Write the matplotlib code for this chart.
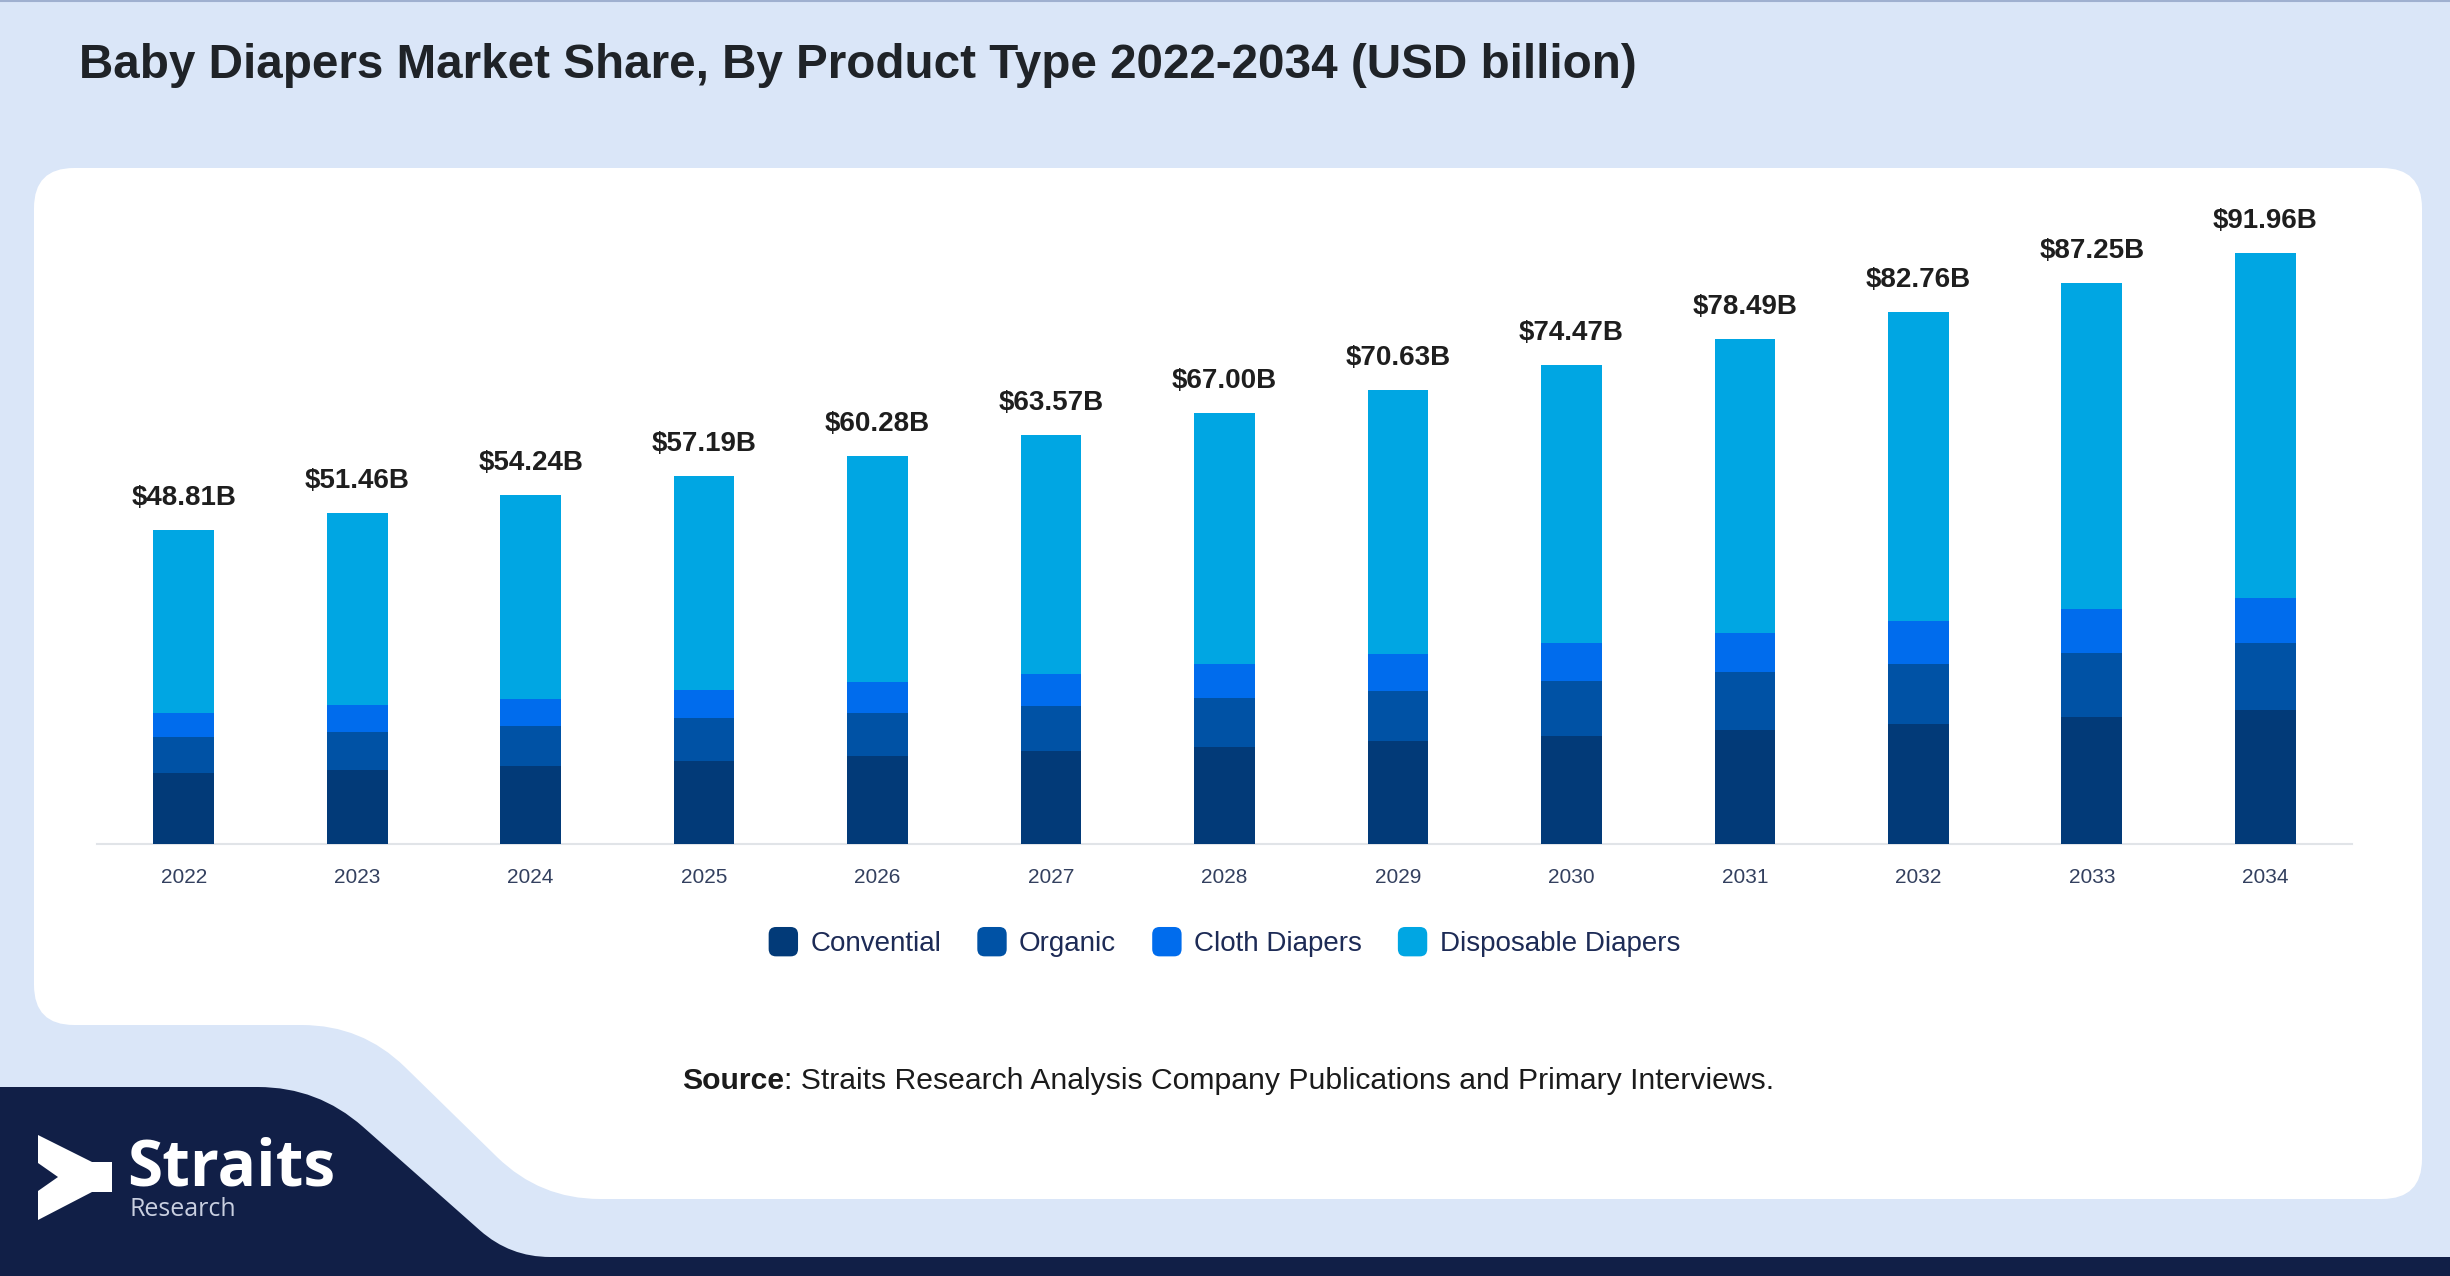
import numpy as np
import matplotlib
matplotlib.use("Agg")
import matplotlib.pyplot as plt
from matplotlib.path import Path
from matplotlib.patches import PathPatch, FancyBboxPatch, Patch
from matplotlib.legend_handler import HandlerBase

plt.rcParams['font.family'] = ['Liberation Sans', 'DejaVu Sans']

# ---------------- data ----------------
years = ['2022', '2023', '2024', '2025', '2026', '2027', '2028',
         '2029', '2030', '2031', '2032', '2033', '2034']
totals = [48.81, 51.46, 54.24, 57.19, 60.28, 63.57, 67.00,
          70.63, 74.47, 78.49, 82.76, 87.25, 91.96]
conventional = [11.0, 11.5, 12.1, 12.95, 13.7, 14.45, 15.1,
                16.0, 16.8, 17.8, 18.6, 19.7, 20.8]
organic = [5.6, 5.9, 6.2, 6.6, 6.75, 7.05, 7.65,
           7.85, 8.5, 8.9, 9.45, 10.05, 10.4]
cloth = [3.85, 4.15, 4.3, 4.4, 4.8, 5.0, 5.3,
         5.7, 5.9, 6.15, 6.65, 6.8, 7.05]
disposable = [28.36, 29.91, 31.64, 33.24, 35.03, 37.07, 38.95,
              41.08, 43.27, 45.64, 48.06, 50.70, 53.71]
series_names = ['Convential', 'Organic', 'Cloth Diapers', 'Disposable Diapers']
series_colors = ['#023a78', '#0052a5', '#006ced', '#00a6e3']
value_labels = ['$48.81B', '$51.46B', '$54.24B', '$57.19B', '$60.28B', '$63.57B',
                '$67.00B', '$70.63B', '$74.47B', '$78.49B', '$82.76B', '$87.25B', '$91.96B']
title = 'Baby Diapers Market Share, By Product Type 2022-2034 (USD billion)'

W, H = 2450, 1276
BG = '#dae6f8'
NAVY = '#111f47'

fig = plt.figure(figsize=(W / 100, H / 100), dpi=100, facecolor=BG)

# background drawing axes in pixel coordinates
bg = fig.add_axes([0, 0, 1, 1], zorder=0)
bg.set_xlim(0, W)
bg.set_ylim(H, 0)
bg.axis('off')


def rounded_path(pts, radii):
    verts, codes = [], []
    n = len(pts)
    for i in range(n):
        p0 = np.array(pts[i - 1], float)
        p1 = np.array(pts[i], float)
        p2 = np.array(pts[(i + 1) % n], float)
        r = radii[i]
        d1 = p0 - p1
        d1 /= np.linalg.norm(d1)
        d2 = p2 - p1
        d2 /= np.linalg.norm(d2)
        a = p1 + d1 * r
        b = p1 + d2 * r
        verts.append(a)
        codes.append(Path.MOVETO if i == 0 else Path.LINETO)
        verts += [p1, b]
        codes += [Path.CURVE3, Path.CURVE3]
    verts.append(verts[0])
    codes.append(Path.CLOSEPOLY)
    return Path(verts, codes)


# thin border line at top
bg.plot([0, W], [1, 1], color='#9fb0d0', lw=1.5)

# white card
card = [(34, 168), (2422, 168), (2422, 1199), (540, 1199), (362, 1025), (34, 1025)]
bg.add_patch(PathPatch(rounded_path(card, [40, 40, 40, 60, 60, 40]),
                       fc='white', ec='none'))

# navy footer
navy = [(0, 1087), (318, 1087), (510, 1257), (W, 1257), (W, H), (0, H)]
bg.add_patch(PathPatch(rounded_path(navy, [0, 60, 40, 0, 0, 0]),
                       fc=NAVY, ec='none'))

# logo icon
icon = [(38, 1135), (92, 1162), (112, 1162), (112, 1192), (92, 1192),
        (38, 1220), (38, 1191), (58, 1177), (38, 1163)]
bg.add_patch(plt.Polygon(icon, closed=True, fc='white', ec='none'))
bg.text(127, 1186, 'Straits', color='white', fontsize=46, fontweight='bold',
        family=['Open Sans', 'DejaVu Sans'], ha='left', va='baseline')
bg.text(130, 1216, 'Research', color='#c9cfe0', fontsize=18,
        family=['Open Sans', 'DejaVu Sans'], ha='left', va='baseline')

# title
bg.text(79, 66, title, fontsize=34.3, fontweight='bold', color='#1f2328',
        ha='left', va='center')

# source
bg.text(784, 1081, 'Source', fontsize=21.7, fontweight='bold', color='#1b1b1b',
        ha='right', va='center')
bg.text(784, 1081, ': Straits Research Analysis Company Publications and Primary Interviews.',
        fontsize=21.7, color='#1b1b1b', ha='left', va='center')

# ---------------- chart ----------------
left, right = 97, 2352
base, top = 844, 201
ax = fig.add_axes([left / W, (H - base) / H, (right - left) / W, (base - top) / H], zorder=2)
ax.set_facecolor('none')

x = np.arange(len(years))
bottom = np.zeros(len(years))
handles = []
for vals, name, col in zip([conventional, organic, cloth, disposable], series_names, series_colors):
    ax.bar(x, vals, width=0.35, bottom=bottom, color=col, edgecolor='none', zorder=3)
    bottom += np.array(vals)
    handles.append(Patch(facecolor=col, label=name))

for xi, tot, lab in zip(x, totals, value_labels):
    ax.annotate(lab, (xi, tot), xytext=(0, 23), textcoords='offset points',
                ha='center', va='center', fontsize=20, fontweight='bold', color='#1e1e1e',
                zorder=4)

ax.set_xlim(-0.5, len(years) - 0.5)
ax.set_ylim(0, 100)
ax.set_xticks(x)
ax.set_xticklabels(years, fontsize=15, color='#33405f')
ax.tick_params(axis='x', length=0, pad=17)
ax.set_yticks([])
for s in ['left', 'right', 'top']:
    ax.spines[s].set_visible(False)
ax.spines['bottom'].set_color('#e1e4e8')
ax.spines['bottom'].set_linewidth(1.5)


class RoundBoxHandler(HandlerBase):
    def create_artists(self, legend, orig_handle, xdescent, ydescent,
                       width, height, fontsize, trans):
        size = min(width, height)
        x0 = -xdescent + (width - size) / 2
        y0 = -ydescent + (height - size) / 2
        pad = size * 0.25
        p = FancyBboxPatch((x0 + pad, y0 + pad), size - 2 * pad, size - 2 * pad,
                           boxstyle=f"round,pad={pad},rounding_size={pad}",
                           fc=orig_handle.get_facecolor(), ec='none', transform=trans)
        return [p]


leg = ax.legend(handles=handles, handler_map={Patch: RoundBoxHandler()},
                loc='center', bbox_to_anchor=(1223 / W, (H - 942) / H),
                bbox_transform=fig.transFigure, ncol=4, frameon=False,
                fontsize=20, handlelength=1.25, handleheight=1.25,
                handletextpad=0.35, columnspacing=1.2, borderpad=0)
for t in leg.get_texts():
    t.set_color('#1d2b56')

fig.savefig('out.png', dpi=100, facecolor=BG)
